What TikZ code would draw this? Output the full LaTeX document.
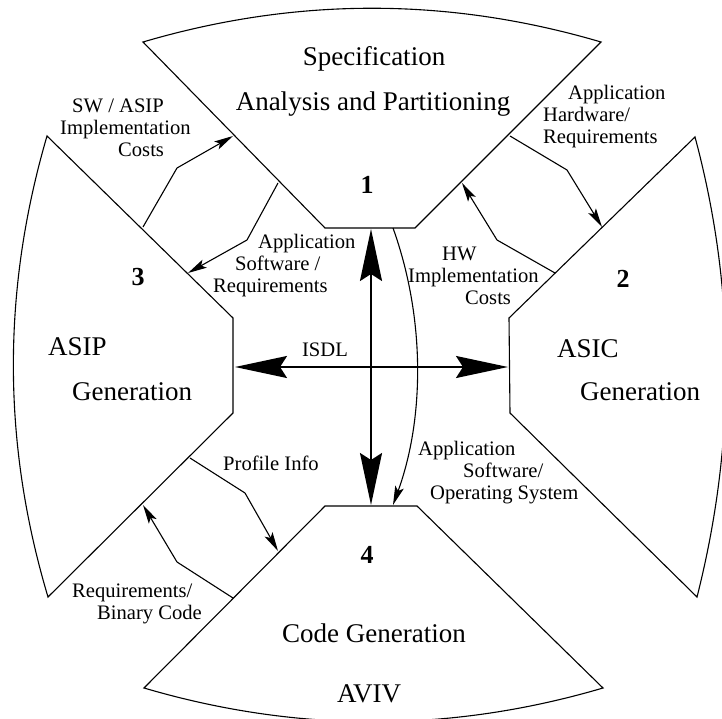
\documentclass[tikz,border=0pt]{standalone}
\usepackage{fontspec}
\setmainfont{Liberation Serif}
\usetikzlibrary{arrows.meta}

\tikzset{
  panel/.style={draw=black, line width=1.1pt, line join=miter},
  bigarrow/.style={line width=2pt, {Stealth[length=52pt,width=22pt,inset=7pt]}-{Stealth[length=52pt,width=22pt,inset=7pt]}},
  downarrow/.style={line width=1.1pt, -{Stealth[length=19pt,width=9pt,inset=4pt]}},
  flow/.style={line width=1.1pt, line join=miter, -{Stealth[length=19pt,width=9pt,inset=4pt]}},
  title/.style={inner sep=0pt, font=\fontsize{27}{30}\selectfont},
  num/.style={inner sep=0pt, font=\fontsize{26}{30}\selectfont\bfseries, anchor=base},
  lbl/.style={inner sep=0pt, anchor=base west, font=\fontsize{20.6}{22}\selectfont},
}

\begin{document}
\begin{tikzpicture}[x=1pt, y=-1pt]
\useasboundingbox (0,0) rectangle (722,719);
\clip (0,0) rectangle (722,719);

% four panels around the centre
\draw[panel] (143,42) .. controls (296,-3) and (448,-3) .. (601,42)
  -- (415,228) -- (325,228) -- cycle;
\draw[panel] (695,137) .. controls (736,290) and (736,443) .. (697,597)
  -- (510,413) -- (509,318) -- cycle;
\draw[panel] (47,136) -- (233,318) -- (233,413) -- (48,597)
  .. controls (2,443) and (2,290) .. (47,136) -- cycle;
\draw[panel] (325,506) -- (417,506) -- (603,688)
  .. controls (450,733) and (297,733) .. (144,688) -- cycle;

% panel texts
\node[title, anchor=base] (spec) at (374,66) {Specification};
\node[title, anchor=base] (anal) at (373,111) {Analysis and Partitioning};
\node[num] (n1) at (367,194) {1};
\node[num] (n2) at (623,287) {2};
\node[title, anchor=base west] (asic) at (557,357) {ASIC};
\node[title, anchor=base west] (asicgen) at (580,400) {Generation};
\node[num] (n3) at (138,285) {3};
\node[title, anchor=base west] (asip) at (48,355) {ASIP};
\node[title, anchor=base west] (asipgen) at (72,400) {Generation};
\node[num] (n4) at (367,563) {4};
\node[title, anchor=base] (codegen) at (374,642) {Code Generation};
\node[title, anchor=base] (aviv) at (369,702) {AVIV};

% connector end points
\coordinate (top) at (371,229);
\coordinate (bot) at (371,505);
\coordinate (lft) at (235,367);
\coordinate (rgt) at (508,367);
\coordinate (ctop) at (393,228);
\coordinate (cbot) at (393,505);

% central ISDL cross and software arrow
\draw[bigarrow] (top) -- (bot);
\draw[bigarrow] (lft) -- (rgt);
\node[lbl, anchor=base] (isdl) at (325,356) {ISDL};
\draw[downarrow] (ctop) .. controls (426,320) and (424,420) .. (cbot);

% SW / ASIP implementation costs: 3 -> 1
\coordinate (a1) at (143,227);
\coordinate (a2) at (177,168);
\coordinate (a3) at (233,136);
\draw[flow] (a1) -- (a2) -- (a3);
% application software requirements: 1 -> 3
\coordinate (b1) at (278,183);
\coordinate (b2) at (247,240);
\coordinate (b3) at (188,273);
\draw[flow] (b1) -- (b2) -- (b3);
% application hardware requirements: 1 -> 2
\coordinate (c1) at (510,136);
\coordinate (c2) at (567,170);
\coordinate (c3) at (602,227);
\draw[flow] (c1) -- (c2) -- (c3);
% HW implementation costs: 2 -> 1
\coordinate (d1) at (555,273);
\coordinate (d2) at (497,240);
\coordinate (d3) at (462,183);
\draw[flow] (d1) -- (d2) -- (d3);
% profile info: 3 -> 4
\coordinate (e1) at (190,458);
\coordinate (e2) at (245,493);
\coordinate (e3) at (278,551);
\draw[flow] (e1) -- (e2) -- (e3);
% requirements / binary code: 4 -> 3
\coordinate (f1) at (233,598);
\coordinate (f2) at (177,562);
\coordinate (f3) at (143,505);
\draw[flow] (f1) -- (f2) -- (f3);

% connector labels
\node[lbl] (swcost) at (60,113) {\vtop{\hbox{\hspace{12pt}SW / ASIP}\hbox{Implementation}\hbox{\hspace{58pt}Costs}}};
\node[lbl] (swreq) at (213,248) {\vtop{\hbox{\hspace{45pt}Application}\hbox{\hspace{22pt}Software /}\hbox{Requirements}}};
\node[lbl] (hwreq) at (543,100) {\vtop{\hbox{\hspace{25pt}Application}\hbox{Hardware/}\hbox{Requirements}}};
\node[lbl] (hwcost) at (408,260) {\vtop{\hbox{\hspace{34pt}HW}\hbox{Implementation}\hbox{\hspace{57pt}Costs}}};
\node[lbl] (prof) at (223,470) {Profile Info};
\node[lbl] (bin) at (72,597) {\vtop{\hbox{Requirements/}\hbox{\hspace{25pt}Binary Code}}};
\node[lbl] (swos) at (418,455) {\vtop{\hbox{Application}\hbox{\hspace{45pt}Software/}\hbox{\hspace{12pt}Operating System}}};
\end{tikzpicture}
\end{document}
